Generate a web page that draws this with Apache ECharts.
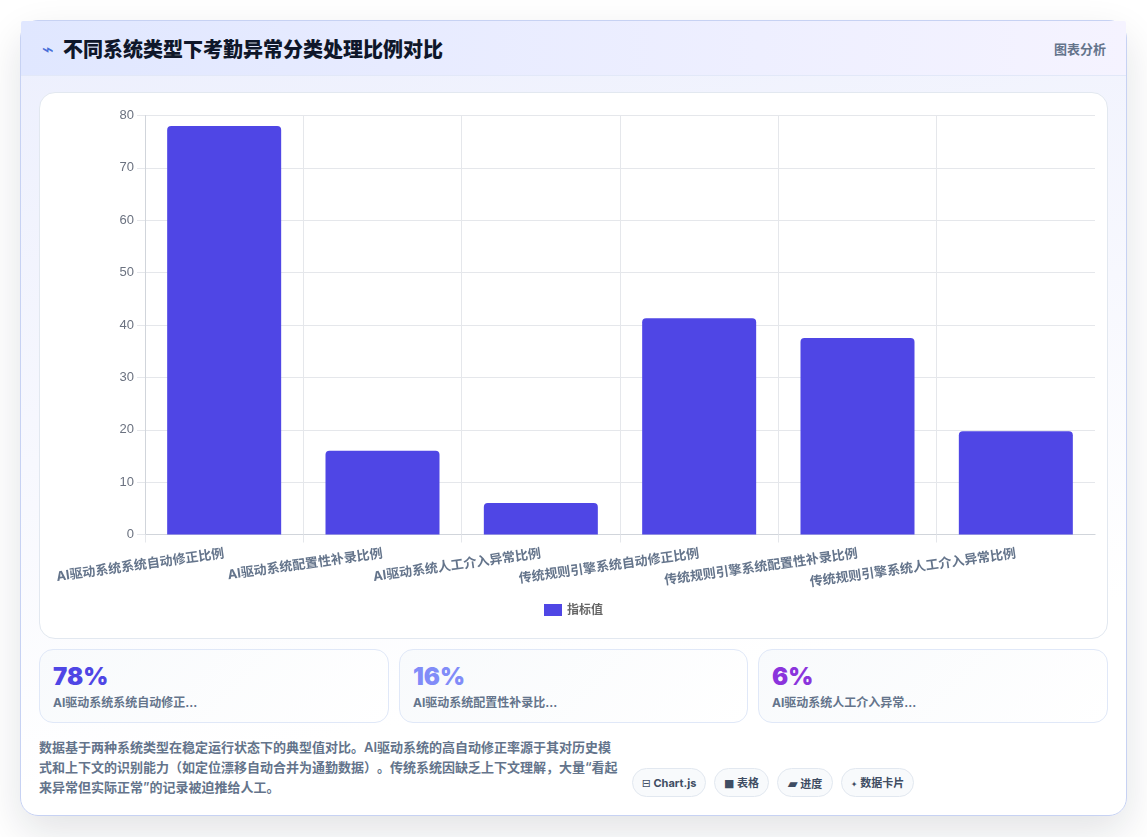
<!DOCTYPE html>
<html lang="zh-CN">
<head>
<meta charset="utf-8">
<title>不同系统类型下考勤异常分类处理比例对比</title>
<script src="https://cdn.jsdelivr.net/npm/echarts@6/dist/echarts.min.js"></script>
<style>
  * { box-sizing: border-box; margin: 0; padding: 0; }
  html, body { width: 1147px; height: 837px; overflow: hidden; background: #fff; }
  body { position: relative; font-family: Inter, "Noto Sans CJK SC", sans-serif; text-spacing-trim: space-all; }
  .card {
    position: absolute; left: 20px; top: 20px; width: 1107px; height: 796px;
    border: 1px solid #c7d2f3; border-radius: 18px;
    background: linear-gradient(170deg, #eceffd 0%, #f7f8fe 45%, #ffffff 78%);
    box-shadow: 0 16px 40px rgba(15, 23, 42, 0.12);
  }
  .head {
    position: absolute; left: 0; top: 0; width: 100%; height: 55px;
    background: linear-gradient(90deg, #e0e7ff 0%, #f5f3ff 100%);
    border-bottom: 1px solid #e2e8f8;
    border-radius: 2px 2px 0 0;
  }
  .icon { position: absolute; left: 21px; top: 16px; font: 20px/24px "DejaVu Sans"; color: #4a6fd8; }
  .title { position: absolute; left: 42px; top: 14px; font-size: 20px; line-height: 30px; font-weight: 800; color: #0f172a; }
  .tag { position: absolute; right: 20px; top: 18px; font-size: 13px; line-height: 20px; font-weight: 600; color: #64748b; }
  .panel {
    position: absolute; left: 18px; top: 71px; width: 1069px; height: 547px;
    background: #fff; border: 1px solid #e2e8f0; border-radius: 16px;
  }
  #chart { position: absolute; left: -1px; top: -1px; width: 1069px; height: 547px; }
  .stat {
    position: absolute; top: 628px; height: 74px; padding: 13px 13px;
    border: 1px solid #e0e8f8; border-radius: 14px;
    background: linear-gradient(135deg, #f8fafc, #ffffff);
  }
  .stat b { display: block; font-size: 24px; line-height: 28px; font-weight: 900; }
  .stat span { display: block; margin-top: 4px; font-size: 12px; line-height: 16px; font-weight: 700; color: #64748b; }
  .note { position: absolute; left: 18px; top: 716px; font-size: 13px; line-height: 20px; font-weight: 600; color: #64748b; white-space: nowrap; }
  .pill {
    position: absolute; top: 747px; height: 29px; line-height: 29px; text-align: center;
    font-size: 11px; font-weight: 700; color: #3f4d63;
    background: #f8fafc; border: 1px solid #e2e8f0; border-radius: 15px; white-space: nowrap;
  }
  .pill i { font-family: "DejaVu Sans"; font-style: normal; font-weight: 400; color: #3f4d63; }
</style>
</head>
<body>
<div class="card">
  <div class="head">
    <span class="icon">⌁</span>
    <span class="title">不同系统类型下考勤异常分类处理比例对比</span>
    <span class="tag">图表分析</span>
  </div>
  <div class="panel"><div id="chart"></div></div>
  <div id="stats"></div>
  <div class="note" id="note"></div>
  <div id="pills"></div>
</div>
<script>
// Chart content
const categories = [
  'AI驱动系统系统自动修正比例',
  'AI驱动系统配置性补录比例',
  'AI驱动系统人工介入异常比例',
  '传统规则引擎系统自动修正比例',
  '传统规则引擎系统配置性补录比例',
  '传统规则引擎系统人工介入异常比例'
];
const values = [78, 16, 6, 41.3, 37.5, 19.7];
const seriesName = '指标值';

// Summary cards: truncated caption, colour, box geometry; the figure comes from values
const statCaptions = ['AI驱动系统系统自动修正...', 'AI驱动系统配置性补录比...', 'AI驱动系统人工介入异常...'];
const statColors = ['#4f46e5', '#818cf8', '#8b34dc'];
const statLefts = [18, 378, 737];
const statWidths = [350, 349, 350];

const noteLines = [
  '数据基于两种系统类型在稳定运行状态下的典型值对比。AI驱动系统的高自动修正率源于其对历史模',
  '式和上下文的识别能力（如定位漂移自动合并为通勤数据）。传统系统因缺乏上下文理解，大量“看起',
  '来异常但实际正常”的记录被迫推给人工。'
];

const pillIcons = ['⊟', '■', '▰', '✦'];
const pillIconSizes = [11, 11, 13, 8];
const pillTexts = ['Chart.js', '表格', '进度', '数据卡片'];
const pillLefts = [611, 693, 756, 820];
const pillWidths = [74, 55, 56, 73];

document.getElementById('stats').innerHTML = statCaptions.map((c, i) =>
  `<div class="stat" style="left:${statLefts[i]}px;width:${statWidths[i]}px">` +
  `<b style="color:${statColors[i]}">${values[i]}%</b><span>${c}</span></div>`).join('');
document.getElementById('note').innerHTML = noteLines.join('<br>');
document.getElementById('pills').innerHTML = pillTexts.map((t, i) =>
  `<div class="pill" style="left:${pillLefts[i]}px;width:${pillWidths[i]}px">` +
  `<i style="font-size:${pillIconSizes[i]}px">${pillIcons[i]}</i> ${t}</div>`).join('');

const chart = echarts.init(document.getElementById('chart'), null, { renderer: 'canvas' });
chart.setOption({
  animation: false,
  grid: { left: 106, right: 13, top: 23.5, bottom: 104.5, containLabel: false },
  legend: {
    data: [seriesName],
    bottom: 18,
    left: 'center',
    itemWidth: 18,
    itemHeight: 12,
    itemGap: 6,
    icon: 'rect',
    textStyle: { color: '#666666', fontSize: 12, fontWeight: 600, fontFamily: 'Inter, "Noto Sans CJK SC"' }
  },
  // the closing tick at the far right of the category axis is masked out
  graphic: [{
    type: 'rect', right: 12, bottom: 95, z: 100,
    shape: { width: 2, height: 9 },
    style: { fill: '#ffffff' }
  }],
  xAxis: {
    type: 'category',
    data: categories,
    boundaryGap: true,
    axisLine: { show: true, lineStyle: { color: '#d1d5db' } },
    axisTick: { show: true, length: 8, alignWithLabel: false, lineStyle: { color: '#e5e7eb' } },
    splitLine: { show: true, showMaxLine: false, lineStyle: { color: '#e5e7eb' } },
    axisLabel: {
      interval: 0, rotate: 8, margin: 19,
      color: '#64748b', fontSize: 13, fontWeight: 700,
      fontFamily: 'Inter, "Noto Sans CJK SC"'
    }
  },
  yAxis: {
    type: 'value',
    min: 0, max: 80, interval: 10,
    axisLine: { show: true, lineStyle: { color: '#d1d5db' } },
    axisTick: { show: true, length: 8, lineStyle: { color: '#e5e7eb' } },
    splitLine: { show: true, lineStyle: { color: '#e5e7eb' } },
    axisLabel: { color: '#6b7280', fontSize: 13, margin: 11, fontFamily: '"Liberation Sans"' }
  },
  series: [{
    name: seriesName,
    type: 'bar',
    data: values,
    barWidth: '72%',
    itemStyle: { color: '#4f46e5', borderRadius: [4, 4, 0, 0] }
  }]
});
</script>
</body>
</html>
